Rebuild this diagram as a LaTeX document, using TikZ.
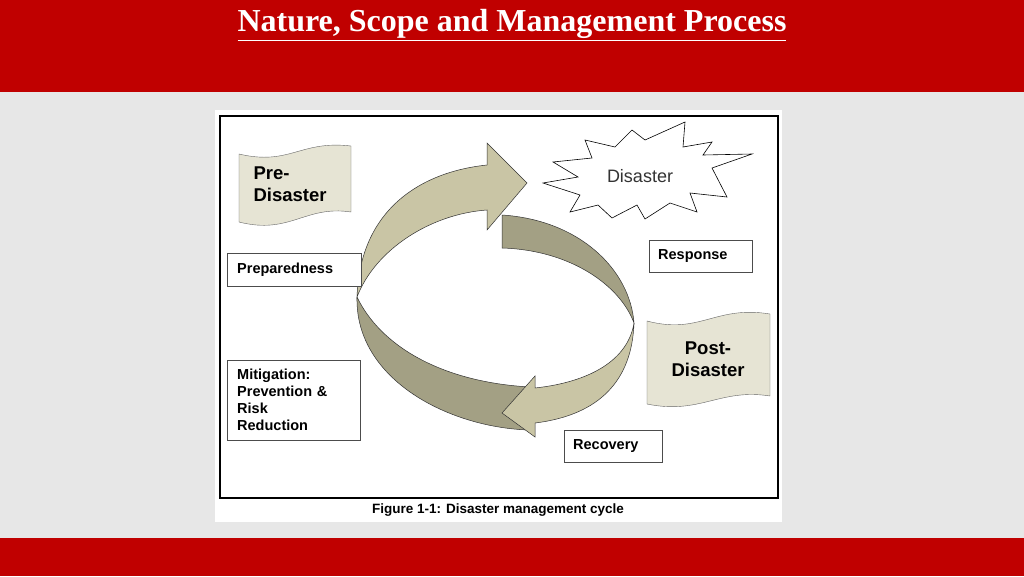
\documentclass[tikz,border=0pt]{standalone}
\usepackage{fontspec}
\setmainfont{Liberation Serif}
\setsansfont{Liberation Sans}
\definecolor{barred}{HTML}{C00000}
\definecolor{slidegrey}{HTML}{E7E7E7}
\definecolor{ringlight}{HTML}{C9C5A5}
\definecolor{ringdark}{HTML}{A3A084}
\definecolor{flagfill}{HTML}{E6E4D4}
\begin{document}
\begin{tikzpicture}[x=1pt,y=-1pt]
            \tikzset{every node/.style={font=\sffamily},
              stagebox/.style={draw=black!70,fill=white,anchor=north west,align=left,inner sep=0pt,font=\sffamily\bfseries\fontsize{14.5}{17}\selectfont},
              flagtext/.style={anchor=north west,align=left,font=\sffamily\bfseries\fontsize{18.5}{22}\selectfont}}

            \useasboundingbox (0,0) rectangle (1024,576);
            \fill[slidegrey] (0,0) rectangle (1024,576);
            \fill[barred] (0,0) rectangle (1024,92);
            \fill[barred] (0,538) rectangle (1024,576);
            \node[font=\rmfamily\bfseries\fontsize{32}{36}\selectfont,text=white] (title) at (512,25) {\underline{Nature, Scope and Management Process}};

            \fill[white] (215,110) rectangle (782,522);
            \draw[line width=1.6pt] (220,116) rectangle (778,498);
            \node[font=\sffamily\bfseries\fontsize{13.5}{15}\selectfont] (caption) at (498,510) {Figure 1-1: Disaster management cycle};

            % ring
            \draw[fill=ringdark,draw=black!80,line width=0.5pt] (357,297) .. controls (355,380) and (450,428) .. (530,430) -- (530,387) .. controls (440,382) and (380,345) .. (357,297) -- cycle;
            \draw[fill=ringlight,draw=black!80,line width=0.5pt] (357,297) .. controls (360,210) and (420,172) .. (487,165) -- (487,143) -- (527,183) -- (487,230) -- (487,210) .. controls (430,214) and (375,250) .. (357,297) -- cycle;
            \draw[fill=ringdark,draw=black!80,line width=0.5pt] (502,215) .. controls (580,220) and (630,270) .. (634,323) .. controls (620,285) and (570,250) .. (502,248) -- cycle;
            \draw[fill=ringlight,draw=black!80,line width=0.5pt] (634,323) .. controls (632,380) and (600,415) .. (535,423) -- (535,437) -- (502,413) -- (535,376) -- (535,388) .. controls (590,382) and (628,360) .. (634,323) -- cycle;

            % disaster burst
            \draw[fill=white,line width=0.6pt] (543,183) -- (578,177) -- (553,162) -- (592,158) -- (585,140) -- (615,147) -- (632,130) -- (645,140) -- (685,122) -- (683,147) -- (712,142) -- (703,155) -- (752,154) -- (712,168) -- (727,197) -- (690,193) -- (697,212) -- (670,203) -- (645,219) -- (637,205) -- (612,218) -- (598,205) -- (570,212) -- (580,195) -- cycle;
            \node[font=\sffamily\fontsize{18}{20}\selectfont,text=black!80] (disaster) at (640,176) {Disaster};

            % flags
            \draw[fill=flagfill,draw=black!60] (239,154) .. controls (290,166) and (300,140) .. (351,146) -- (351,212) .. controls (305,205) and (290,235) .. (239,222) -- cycle;
            \node[flagtext] (pre) at (250,163) {Pre-\\Disaster};
            \draw[fill=flagfill,draw=black!60] (647,321) .. controls (700,335) and (715,305) .. (770,314) -- (770,396) .. controls (720,388) and (700,415) .. (647,404) -- cycle;
            \node[flagtext,align=center,anchor=center] (post) at (708,359) {Post-\\Disaster};

            % stages
            \node[stagebox,minimum width=124pt,minimum height=33pt,text width=114pt,inner xsep=10pt] (prep) at (227,253) {Preparedness};
            \node[stagebox,minimum width=123pt,minimum height=80pt,text width=113pt,inner xsep=10pt] (mitig) at (227,360) {Mitigation:\\Prevention \&\\Risk\\Reduction};
            \node[stagebox,minimum width=95pt,minimum height=32pt,text width=85pt,inner xsep=9pt] (resp) at (649,240) {\raisebox{3pt}{Response}};
            \node[stagebox,minimum width=90pt,minimum height=32pt,text width=80pt,inner xsep=9pt] (recov) at (564,430) {\raisebox{1pt}{Recovery}};
          \end{tikzpicture}
\end{document}
